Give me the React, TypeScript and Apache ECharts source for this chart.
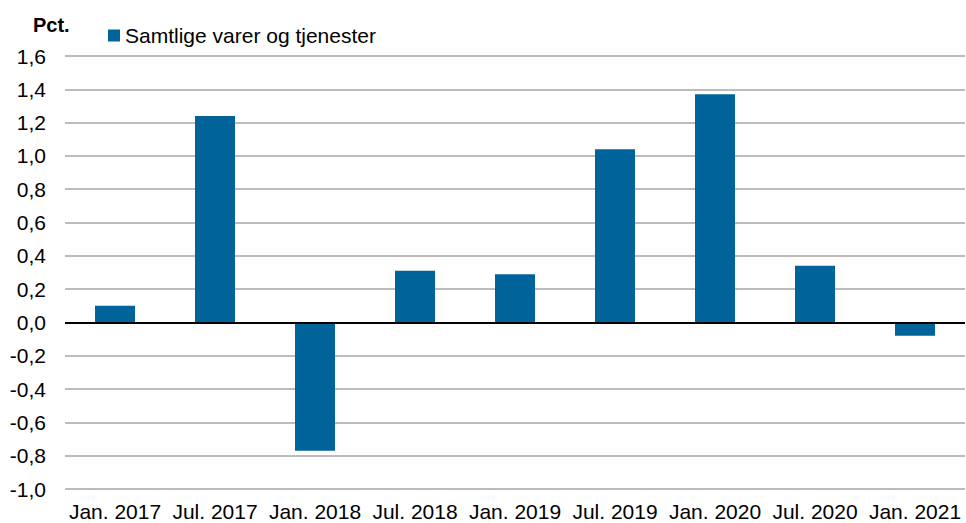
import React, { useEffect, useRef } from "react";
import * as echarts from "echarts";

const categories = ["Jan. 2017", "Jul. 2017", "Jan. 2018", "Jul. 2018", "Jan. 2019", "Jul. 2019", "Jan. 2020", "Jul. 2020", "Jan. 2021"];
const values = [0.1, 1.24, -0.77, 0.31, 0.29, 1.04, 1.37, 0.34, -0.08];
const seriesName = "Samtlige varer og tjenester";
const yMin = -1.0;
const yMax = 1.6;
const yStep = 0.2;

export default function App() {
  const ref = useRef<HTMLDivElement>(null);
  useEffect(() => {
    const chart = echarts.init(ref.current!, null, { renderer: "svg" });
    const font = "'Liberation Sans', Arial, sans-serif";
    chart.setOption({
      animation: false,
      textStyle: { fontFamily: font },
      grid: { left: 65, right: 1, top: 56, bottom: 34, containLabel: false },
      legend: {
        data: [seriesName],
        left: 103,
        top: 20,
        icon: "rect",
        itemWidth: 12,
        itemHeight: 12,
        itemGap: 5,
        textStyle: { fontFamily: font, fontSize: 21, color: "#000" },
      },
      graphic: [
        {
          type: "text",
          left: 33,
          top: 15,
          style: { text: "Pct.", font: "bold 20px 'Liberation Sans', Arial, sans-serif", fill: "#000" },
        },
      ],
      xAxis: {
        type: "category",
        data: categories,
        axisTick: { show: false },
        axisLine: { show: false },
        axisLabel: { color: "#000", fontSize: 21, fontFamily: font, margin: 12, interval: 0 },
      },
      yAxis: {
        type: "value",
        min: yMin,
        max: yMax,
        interval: yStep,
        axisLine: { show: false },
        axisTick: { show: false },
        splitLine: { lineStyle: { color: "#A6A6A6", width: 1.5 } },
        axisLabel: {
          color: "#000",
          fontSize: 21,
          fontFamily: font,
          margin: 19,
          formatter: (v: number) => v.toFixed(1).replace(".", ","),
        },
      },
      series: [
        {
          name: seriesName,
          type: "bar",
          data: values,
          barWidth: "40%",
          itemStyle: { color: "#00639A" },
          markLine: {
            silent: true,
            symbol: "none",
            label: { show: false },
            lineStyle: { color: "#000", width: 2, type: "solid" },
            data: [{ yAxis: 0 }],
          },
        },
      ],
    });
    return () => chart.dispose();
  }, []);
  return <div ref={ref} style={{ width: 966, height: 523, position: "absolute", left: 0, top: 0 }} />;
}
